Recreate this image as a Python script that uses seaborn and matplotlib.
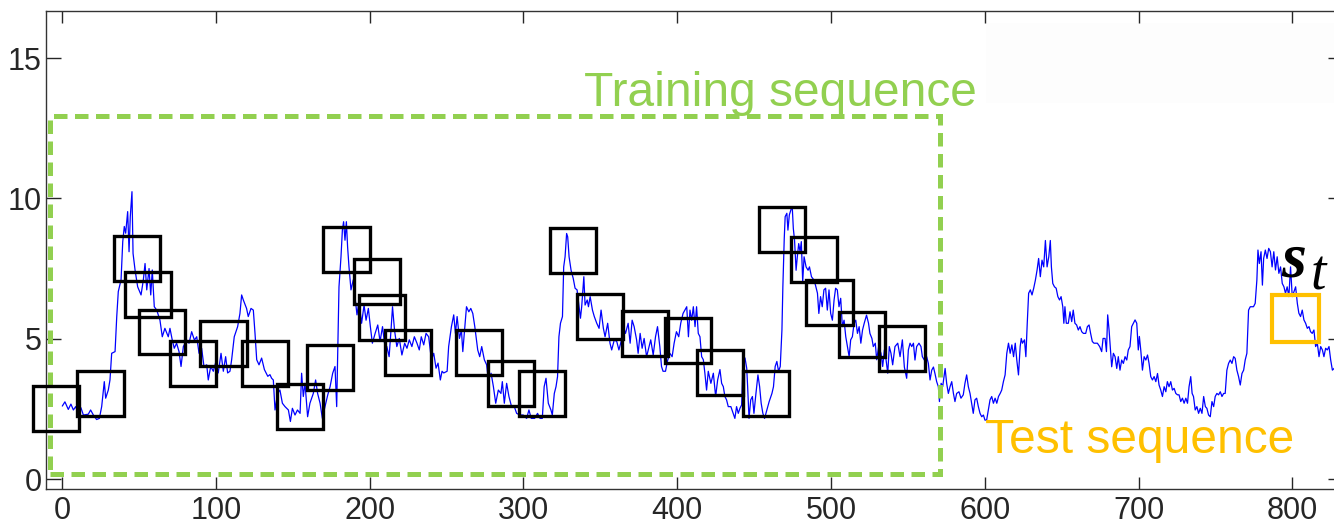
import numpy as np
import pandas as pd
import matplotlib
matplotlib.use("Agg")
import matplotlib.pyplot as plt
import seaborn as sns
from matplotlib.patches import Rectangle

# series, in six pieces (time index, value)
t_a = [0.2, 1.9, 4.1, 5.8, 7.4, 8.9, 10.6, 12.3, 13.9, 17.1,
       18.6, 20.4, 22.5, 24.3, 25.8, 27.5, 28.4, 30.1, 31.2, 32.3,
       34.5, 35.6, 36.6, 38.4, 39.5, 40.5, 41.4, 42.7, 43.6, 44.4,
       45.5, 46.2, 47.5, 49.2, 51.4, 52.9, 54.0, 55.1, 56.6, 57.7,
       58.7, 60.0, 61.6, 63.7, 65.2, 66.9, 69.1, 70.2, 71.7, 73.0,
       74.5, 76.1, 77.4, 78.9, 81.1, 82.6, 84.3, 86.1, 87.6, 89.1,
       90.8, 92.3, 94.1, 95.1, 96.7, 98.4, 100.1, 101.6, 103.4, 104.9,
       106.4, 107.7, 109.2, 110.3, 112.0, 114.2, 115.7, 116.8, 117.9, 120.0,
       121.1, 122.9, 124.4, 125.5, 126.6, 128.1, 129.8, 131.6, 133.8, 135.2]
v_a = [2.6, 2.75, 2.48, 2.67, 2.46, 2.58, 2.34, 2.54, 2.28, 2.31,
       2.46, 2.28, 2.12, 2.16, 2.58, 3.47, 2.88, 3.17, 3.53, 4.48,
       4.54, 5.79, 6.68, 7.10, 8.46, 9.0, 8.76, 9.53, 8.1, 9.35,
       10.24, 8.04, 7.45, 6.85, 6.56, 7.1, 7.68, 6.74, 7.5, 6.56,
       7.45, 6.14, 6.02, 5.66, 5.07, 5.37, 5.07, 5.37, 4.95, 4.66,
       4.84, 4.54, 4.01, 4.72, 4.95, 4.84, 5.25, 4.95, 5.07, 4.48,
       4.66, 4.01, 4.07, 3.53, 4.01, 3.84, 4.19, 3.78, 4.48, 3.84,
       4.36, 3.78, 3.84, 4.25, 5.07, 5.43, 5.9, 6.56, 6.38, 6.08,
       5.79, 6.08, 6.02, 5.19, 4.25, 4.07, 4.31, 3.90, 3.66, 3.72]

t_b = [136.3, 137.4, 138.5, 140.2, 141.7, 143.3, 145.0, 147.2, 148.5, 149.8,
       151.5, 153.1, 154.8, 155.8, 156.9, 158.0, 159.7, 161.2, 163.4, 164.9,
       166.2, 167.8, 169.3, 171.0, 172.8, 174.3, 176.0, 177.5, 178.6, 179.3,
       180.1, 181.4, 182.3, 183.1, 184.0, 184.9, 185.7, 186.6, 187.9, 189.4,
       190.5, 191.8, 193.1, 194.8, 196.4, 197.7, 199.2, 200.5, 201.8, 203.6,
       205.3, 206.8, 208.4, 209.7, 211.2, 212.7, 214.0, 214.9, 216.2, 217.7,
       219.3, 221.0, 222.8, 224.3, 225.8, 227.5, 229.1, 230.8, 232.3, 233.6,
       235.2, 236.7, 238.4, 240.2, 241.7, 243.2, 244.5, 246.0, 247.1, 248.2,
       250.4, 251.4, 253.2, 254.7, 255.8, 256.9, 258.4, 259.7, 260.6, 261.9,
       263.0, 264.5, 265.8, 267.1, 268.4]
v_b = [3.59, 3.53, 2.46, 3.05, 3.17, 2.70, 2.58, 2.46, 2.05, 2.52,
       2.28, 2.46, 2.34, 3.77, 2.94, 3.41, 2.22, 2.70, 3.05, 3.53,
       3.05, 2.70, 2.16, 2.58, 3.00, 3.29, 3.77, 4.01, 2.58, 4.60,
       6.85, 7.92, 8.87, 9.17, 8.51, 9.17, 8.27, 7.56, 6.74, 7.10,
       6.50, 5.85, 6.32, 5.55, 6.20, 5.66, 6.08, 5.43, 4.84, 5.19,
       5.49, 4.90, 5.43, 4.84, 4.72, 4.36, 5.37, 6.14, 5.31, 4.72,
       5.01, 4.42, 4.84, 4.66, 4.96, 4.72, 5.07, 4.84, 4.60, 5.07,
       4.78, 5.19, 5.07, 4.25, 4.48, 3.95, 4.13, 3.53, 3.84, 3.78,
       3.84, 4.72, 5.43, 5.85, 5.19, 5.79, 5.01, 5.31, 4.54, 5.43,
       6.14, 5.96, 6.08, 5.90, 5.43]

t_c = [270.3, 271.6, 272.9, 274.6, 276.1, 277.2, 279.0, 280.5, 282.0, 283.7,
       285.4, 286.3, 287.6, 289.1, 290.6, 292.3, 294.1, 295.6, 297.8, 299.9,
       302.1, 303.6, 305.1, 307.3, 309.2, 310.8, 312.3, 313.5, 314.7, 316.2,
       317.9, 318.8, 320.1, 321.2, 322.2, 323.1, 324.1, 325.4, 326.2, 327.1,
       328.1, 328.8, 329.7, 331.0, 332.4, 333.6, 334.9, 336.1, 337.1, 337.9,
       339.3, 340.1, 341.5, 342.3, 343.4, 344.9, 346.1, 347.7, 349.2, 350.5,
       352.0, 353.1, 354.8, 356.3, 357.4, 359.1, 360.7, 362.1, 363.8, 364.9,
       366.4, 368.1, 369.4, 370.7, 372.0, 373.6, 374.6, 375.9, 377.2, 378.5,
       380.1, 381.2, 382.8, 384.4, 385.9, 387.2, 388.7, 389.8, 390.8, 392.4,
       393.6, 395.2, 396.7, 398.0, 399.5, 401.0, 402.3, 403.8]
v_c = [4.60, 4.36, 4.72, 4.25, 4.07, 3.53, 3.77, 3.29, 2.70, 3.17,
       3.05, 3.47, 2.70, 3.41, 2.94, 2.58, 2.58, 2.34, 2.28, 2.28,
       2.16, 2.46, 2.16, 2.16, 2.34, 2.16, 2.16, 3.29, 3.59, 2.70,
       2.46, 2.28, 3.05, 3.29, 3.65, 5.07, 5.55, 5.79, 7.56, 7.92,
       8.75, 8.63, 7.92, 7.44, 7.15, 6.80, 6.74, 6.20, 5.73, 6.14,
       7.21, 6.20, 6.38, 6.14, 6.50, 6.02, 5.79, 5.55, 5.37, 6.02,
       5.37, 5.07, 5.55, 4.84, 4.60, 4.96, 4.90, 4.60, 4.96, 5.43,
       5.19, 5.55, 4.84, 5.66, 5.43, 4.96, 4.48, 5.19, 4.66, 5.01,
       4.36, 4.60, 4.96, 4.42, 5.07, 5.43, 4.72, 4.01, 3.84, 3.84,
       4.19, 4.48, 4.36, 4.84, 5.25, 5.07, 5.55, 5.90]

t_d = [406.2, 407.3, 408.3, 409.4, 410.5, 411.6, 412.6, 413.7, 414.8, 415.9,
       417.0, 418.0, 419.1, 420.2, 421.9, 423.5, 425.0, 426.3, 427.8, 428.9,
       430.0, 431.0, 432.1, 433.2, 434.9, 436.4, 437.5, 438.6, 439.7, 440.8,
       441.9, 443.0, 444.1, 445.2, 445.8, 446.7, 447.8, 448.9, 449.9, 451.2,
       452.5, 453.6, 454.6, 455.7, 456.8, 458.3, 459.8, 461.6, 462.6, 463.7,
       464.8, 465.9, 467.0, 468.1, 468.7, 469.6, 470.2, 471.3, 472.0, 472.9,
       474.2, 474.8, 475.5, 476.3, 477.3, 478.1, 479.0, 479.9, 480.7, 481.6,
       482.5, 483.8, 485.1, 486.0, 487.3, 488.8, 489.9, 491.2, 492.1, 493.2,
       494.3, 495.4, 496.5, 497.6, 498.7, 499.8, 500.9, 502.0, 503.0, 504.1,
       505.2, 506.3, 507.4, 508.5, 509.6, 510.7, 511.8, 512.8, 513.9, 515.0,
       516.1, 517.2, 518.3, 519.4, 520.5, 521.6, 523.1, 524.4, 525.3, 526.6,
       527.5, 528.8, 529.7, 531.0, 532.5, 533.6, 534.7, 535.8, 536.9, 537.9,
       539.0, 540.1]
v_d = [6.14, 5.07, 6.02, 5.66, 6.14, 5.43, 6.14, 5.19, 5.07, 4.36,
       4.25, 3.77, 3.17, 3.84, 3.41, 3.77, 2.94, 3.53, 3.90, 3.41,
       3.29, 2.94, 2.82, 2.58, 2.58, 2.34, 2.16, 2.58, 2.34, 2.52,
       2.64, 4.36, 4.31, 3.95, 3.29, 2.16, 2.82, 2.94, 2.34, 3.05,
       3.71, 3.29, 2.70, 2.34, 2.16, 2.46, 2.76, 3.05, 3.29, 4.01,
       4.19, 3.84, 4.01, 5.31, 6.85, 8.57, 9.35, 9.47, 8.87, 9.41,
       9.64, 9.70, 8.93, 8.51, 7.44, 7.92, 8.39, 8.10, 8.46, 7.03,
       7.92, 7.56, 7.44, 7.56, 7.21, 7.10, 6.91, 6.62, 5.90, 6.50,
       6.14, 6.74, 6.80, 6.02, 6.74, 5.90, 5.66, 6.38, 6.80, 6.74,
       6.14, 6.44, 5.43, 5.66, 5.07, 4.72, 4.36, 4.96, 5.07, 5.55,
       5.66, 5.19, 5.43, 4.84, 5.31, 5.55, 5.84, 5.55, 5.19, 5.01,
       4.72, 4.84, 4.25, 4.72, 4.48, 4.01, 4.60, 4.25, 3.77, 4.72,
       4.48, 4.07]

t_e = [541.6, 543.4, 544.9, 546.4, 547.7, 549.2, 550.3, 551.4, 552.5, 553.6,
       554.6, 555.7, 557.2, 558.5, 559.4, 560.7, 562.2, 563.3, 564.4, 565.5,
       566.6, 567.6, 568.7, 569.8, 570.5, 571.6, 572.6, 574.2, 575.2, 576.3,
       577.4, 578.5, 579.6, 580.6, 581.7, 583.2, 584.5, 586.0, 587.1, 588.2,
       589.3, 590.4, 591.4, 592.5, 593.6, 594.7, 595.8, 596.9, 598.0, 599.1,
       600.1, 601.2, 602.3, 603.4, 604.5, 605.6, 606.7, 607.8, 608.9, 610.0,
       611.0, 612.1, 613.2, 614.3, 615.4, 616.5, 617.6, 618.7, 619.8, 620.8,
       621.9, 623.0, 623.7, 624.5, 625.8, 626.7, 627.6, 628.5, 629.6, 630.7,
       631.8, 632.9, 634.0, 635.0, 636.1, 637.2, 638.3, 639.4, 640.5, 641.6,
       642.6, 643.3, 644.2, 645.3, 646.4, 647.5, 648.6, 649.6, 650.7, 651.4,
       652.1, 653.0, 654.3, 655.4, 656.5, 657.5, 658.6, 659.7, 660.8, 661.9,
       663.0, 664.1, 665.6, 666.7, 667.8, 668.8, 669.9, 671.0, 673.2, 674.7,
       676.0, 676.9, 678.2, 679.1, 679.9, 680.8]
v_e = [4.72, 4.84, 4.36, 4.96, 3.99, 3.59, 4.60, 4.84, 4.72, 4.84,
       4.24, 4.72, 4.84, 4.72, 4.36, 4.24, 4.36, 4.12, 3.53, 3.88,
       3.99, 3.76, 3.47, 3.29, 2.76, 3.41, 3.29, 3.94, 3.41, 3.05,
       3.29, 3.47, 3.05, 2.76, 3.05, 3.11, 2.88, 3.00, 3.41, 3.71,
       3.29, 3.05, 2.70, 2.34, 2.82, 2.88, 2.58, 2.34, 2.22, 2.28,
       2.10, 2.10, 2.46, 2.82, 2.94, 2.70, 2.88, 2.70, 2.94, 3.05,
       3.17, 3.47, 3.71, 4.48, 4.84, 4.48, 4.78, 4.36, 4.84, 4.24,
       3.71, 4.72, 5.01, 4.84, 4.96, 4.36, 5.55, 6.62, 6.74, 6.56,
       6.80, 7.09, 7.45, 7.86, 7.21, 7.80, 7.56, 8.50, 7.56, 7.92,
       8.50, 7.56, 6.97, 6.85, 6.80, 6.50, 6.38, 6.50, 6.14, 5.55,
       6.14, 5.55, 5.55, 5.96, 5.61, 6.02, 5.55, 5.49, 5.31, 5.43,
       5.25, 5.19, 5.19, 5.43, 5.49, 5.19, 4.90, 4.84, 4.84, 4.72,
       4.54, 5.01, 5.01, 4.54, 5.85, 5.31]

t_f = [682.5, 683.6, 684.7, 685.8, 686.8, 687.9, 689.0, 690.1, 691.2, 692.3,
       693.3, 694.4, 695.5, 696.6, 697.7, 698.8, 699.8, 700.5, 701.4, 702.5,
       703.6, 704.7, 705.8, 706.8, 707.9, 709.0, 710.1, 711.2, 712.3, 713.3,
       714.4, 715.5, 716.6, 717.7, 718.7, 719.8, 720.9, 722.0, 723.1, 724.2,
       725.3, 726.3, 727.4, 728.5, 729.6, 730.7, 731.8, 732.8, 733.9, 734.8,
       735.7, 736.8, 737.9, 739.0, 740.1, 741.2, 742.3, 743.4, 744.4, 745.5,
       746.6, 747.7, 748.8, 749.8, 750.9, 752.0, 753.1, 754.2, 755.3, 756.3,
       757.4, 758.5, 759.6, 760.7, 761.8, 762.8, 763.9, 765.0, 766.1, 767.2,
       768.3, 769.3, 770.4, 771.5, 772.6, 773.7, 774.7, 775.8, 776.9, 777.6,
       778.5, 779.6, 780.5, 781.3, 782.4, 783.5, 784.6, 785.7, 786.8, 787.9,
       789.0, 790.1, 791.2, 792.3, 793.4, 794.5, 795.5, 796.6, 797.7, 798.8,
       799.9, 801.0, 802.1, 803.2, 804.2, 805.3, 806.4, 807.5, 808.6, 809.7,
       810.8, 811.8, 812.9, 814.0, 815.1, 816.2, 817.3, 818.4, 819.5, 820.5,
       821.6, 822.7, 823.8, 824.9, 826.0, 830.0]
v_f = [4.00, 4.48, 4.36, 3.94, 4.36, 3.88, 4.24, 4.12, 4.36, 4.24,
       4.60, 4.72, 5.43, 5.55, 5.67, 5.55, 4.60, 5.08, 4.60, 3.88,
       4.36, 4.24, 4.42, 4.12, 3.65, 3.53, 3.65, 3.47, 3.76, 3.35,
       3.17, 2.94, 3.29, 3.11, 3.47, 3.29, 3.47, 3.17, 3.23, 3.05,
       3.00, 3.00, 2.76, 2.88, 2.70, 2.88, 2.70, 3.29, 3.65, 3.05,
       2.94, 2.46, 2.58, 2.34, 2.52, 2.34, 2.94, 2.58, 2.52, 2.28,
       2.22, 2.76, 2.58, 2.94, 3.05, 3.00, 3.11, 2.94, 3.05, 3.05,
       3.88, 4.12, 4.24, 4.12, 4.36, 4.30, 3.88, 3.65, 3.35, 3.76,
       3.88, 4.24, 4.48, 6.02, 6.14, 6.14, 6.14, 6.26, 7.09, 8.16,
       7.68, 8.10, 6.91, 7.86, 8.16, 7.86, 8.22, 8.10, 7.56, 8.10,
       7.45, 7.92, 7.33, 7.56, 6.97, 6.85, 6.62, 6.85, 6.50, 7.56,
       6.50, 6.68, 6.85, 6.26, 5.91, 5.79, 6.02, 5.67, 5.55, 5.37,
       5.43, 5.25, 5.19, 5.31, 4.72, 4.84, 4.36, 4.72, 4.60, 4.36,
       4.66, 4.60, 4.72, 4.24, 3.88, 4.10]

# sliding windows on the training part (left edge, bottom edge)
win_left = [-19, 10, 34, 41, 50, 70, 90, 117, 140, 159, 170, 190, 193, 210,
            256, 277, 297, 317, 335, 364, 392, 413, 443, 453, 474, 484, 505, 531]
win_bottom = [1.72, 2.26, 7.06, 5.76, 4.44, 3.31, 4.04, 3.31, 1.78, 3.19, 7.37, 6.24, 4.95, 3.72,
              3.72, 2.59, 2.26, 7.35, 4.99, 4.37, 4.13, 3.00, 2.26, 8.10, 7.02, 5.48, 4.35, 3.86]
win_w, win_h = 30, 1.6

t_all = t_a + t_b + t_c + t_d + t_e + t_f
v_all = v_a + v_b + v_c + v_d + v_e + v_f
assert len(t_all) == len(v_all)
df = pd.DataFrame({"t": t_all, "value": v_all})

green = "#92d050"
orange = "#ffc000"

sns.set_style("ticks")
plt.rcParams["font.family"] = ["Liberation Sans", "DejaVu Sans"]

fig = plt.figure(figsize=(13.34, 5.29), dpi=100)
ax = fig.add_axes([46 / 1334, 1 - 489 / 529, (1343 - 46) / 1334, (489 - 10.7) / 529])

# very faint patch in the top right corner
ax.add_patch(Rectangle((601, 13.4), 240, 2.85, facecolor="#fdfdfd", edgecolor="none", zorder=0))

sns.lineplot(data=df, x="t", y="value", ax=ax, color="#0000ff", linewidth=0.9,
             estimator=None, sort=False, zorder=2)

for bx, by in zip(win_left, win_bottom):
    ax.add_patch(Rectangle((bx, by), win_w, win_h, fill=False, edgecolor="black",
                           linewidth=2.4, zorder=3, clip_on=False))

ax.add_patch(Rectangle((-7.8, 0.18), 578.8, 12.76, fill=False, edgecolor=green, linewidth=3.6,
                       linestyle=(0, (2.7, 1.5)), zorder=2, clip_on=False))
ax.text(339.6, 13.3, "Training sequence", color=green, fontsize=34.5, ha="left", va="baseline")

ax.add_patch(Rectangle((787, 4.89), 30.5, 1.67, fill=False, edgecolor=orange, linewidth=3,
                       zorder=3, clip_on=False))
ax.text(600, 0.93, "Test sequence", color=orange, fontsize=34.5, ha="left", va="baseline")
ax.text(792.5, 7.2, "s", fontsize=46, color="black", ha="left", va="baseline",
        family="Liberation Serif", fontweight="bold", fontstyle="italic")
ax.text(811.5, 6.75, "t", fontsize=40, color="black", ha="left", va="baseline",
        family="Liberation Serif", fontstyle="italic")

ax.set_xlim(-10.4, 832.9)
ax.set_ylim(-0.356, 16.69)
ax.set_xticks(range(0, 900, 100))
ax.set_yticks([0, 5, 10, 15])
ax.set_xlabel("")
ax.set_ylabel("")
ax.tick_params(axis="both", direction="in", top=True, right=True, labelsize=22,
               colors="#262626", width=1)
ax.tick_params(axis="x", length=8.5, pad=5)
ax.tick_params(axis="y", length=11, pad=3)
for sp in ax.spines.values():
    sp.set_linewidth(1)
    sp.set_color("#333333")

fig.savefig("out.png", dpi=100)
